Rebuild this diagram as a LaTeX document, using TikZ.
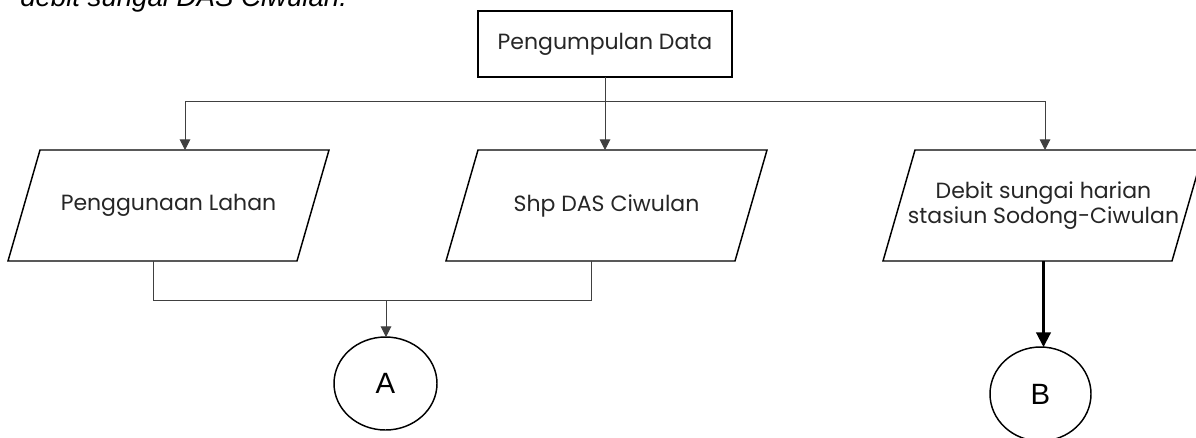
\documentclass[tikz,border=0pt]{standalone}
\usepackage{fontspec}
\setmainfont{Poppins}
\newfontfamily\capfont{Liberation Sans}
\usetikzlibrary{shapes.geometric,arrows.meta,calc}
\begin{document}
\begin{tikzpicture}[x=0.75pt,y=-0.75pt,
  flowfont/.style={font=\fontsize{16.5}{18.75}\selectfont,text=black!85},
  box/.style={draw=black,line width=1.1pt,minimum width=190.5pt,minimum height=49.5pt,inner sep=0pt,outer sep=0pt,flowfont},
  paratext/.style={inner sep=0pt,outer sep=0pt,minimum width=216.75pt,minimum height=83.25pt,align=center,flowfont},
  paraline/.style={draw=black,line width=1.1pt,line join=miter},
  conn/.style={draw=black!75,line width=0.75pt},
  arr/.style={conn,-{Triangle[length=8pt,width=8pt]}},
  thickarr/.style={draw=black,line width=1.6pt,-{Triangle[length=11pt,width=11pt]}},
  term/.style={ellipse,draw=black,line width=1.1pt,inner sep=0pt,outer sep=0pt,font=\capfont\fontsize{22}{26}\selectfont}
]
\useasboundingbox (0,0) rectangle (1196,437);
\clip (0,0) rectangle (1196,437);
\path[fill=white] (0,0) rectangle (1196,437);

\node[anchor=base west,inner sep=0pt,font=\capfont\itshape\fontsize{20.7}{24}\selectfont] (cap) at (20,6) {debit sungai DAS Ciwulan.};

\node[box] (top) at (605,44) {Pengumpulan Data};

\node[paratext] (l) at (168.5,205.5) {Penggunaan Lahan};
\node[paratext] (m) at (606.5,205.5) {Shp DAS Ciwulan};
\node[paratext] (r) at (1043.5,205.5) {Debit sungai harian\\stasiun Sodong-Ciwulan};

\foreach \n in {l,m,r}{
  \draw[paraline] ([xshift=-12pt]\n.south west) -- ([xshift=-12pt]\n.south east) -- ([xshift=12pt]\n.north east) -- ([xshift=12pt]\n.north west) -- cycle;
}

\node[term,minimum width=77.25pt,minimum height=69.75pt] (A) at (385.5,383.5) {A};
\node[term,minimum width=75.75pt,minimum height=70.5pt] (B) at (1040.5,394) {B};

% top distribution
\coordinate (hl) at (185,101);
\coordinate (hr) at (1045,101);
\draw[conn] (hl) -- (hr);
\draw[arr] (top.south) -- (top.south |- m.north);
\draw[arr] (hl) -- (hl |- l.north);
\draw[arr] (hr) -- (hr |- r.north);

% merge to A
\path (l.south) ++(-15.5,0) coordinate (lb);
\path (m.south) ++(-15.5,0) coordinate (mb);
\draw[conn] (lb) -- ++(0,39) -| (mb);
\coordinate (ja) at (386,300);
\draw[arr] (ja) -- (ja |- A.north);

% right to B
\draw[thickarr] (r.south) -- (r.south |- B.north);
\end{tikzpicture}
\end{document}
